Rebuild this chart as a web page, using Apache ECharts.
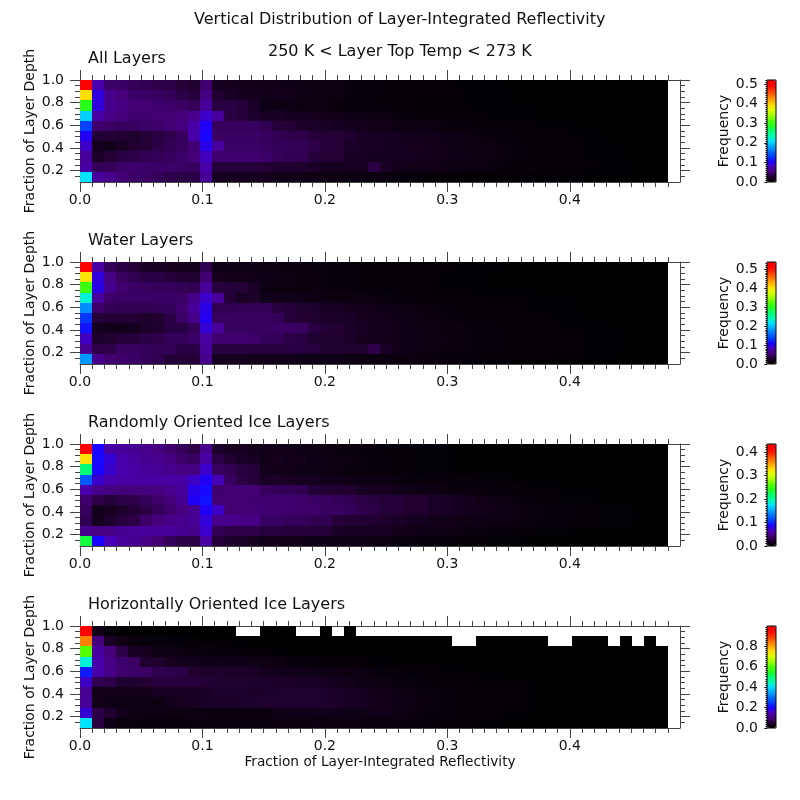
<!DOCTYPE html>
<html><head><meta charset="utf-8">
<style>html,body{margin:0;padding:0;background:#fff}#c{width:800px;height:800px}</style>
<script src="https://cdn.jsdelivr.net/npm/echarts@6/dist/echarts.min.js"></script>
</head><body><div id="c"></div>
<script>
// Values are frequency x 1000; rows run from the top row of each panel (depth 1.0) downward.
const allLayers = [
[500,75,46,44,40,38,36,34,28,25, 48,18,16,14,13,12,12,11,10,9, 8,8,7,6,6,5,5,4,4,3, 3,2,2,2,2,1,1,1,1,1, 1,1,1,0,0,0,0,0,0],
[390,92,60,52,46,44,42,40,34,30, 55,26,20,18,16,14,15,13,11,10, 9,8,7,6,6,5,5,4,4,3, 3,3,2,2,2,2,1,1,1,1, 1,1,1,1,0,0,0,0,0],
[290,92,62,55,50,50,48,46,44,40, 65,32,32,30,22,11,10,10,9,8, 7,6,5,5,4,4,3,3,2,2, 2,2,2,1,1,1,1,1,1,1, 1,1,1,0,0,0,0,0,0],
[200,70,58,52,48,48,50,50,52,60, 85,68,32,30,24,20,20,18,18,16, 14,12,11,10,9,8,7,6,5,5, 4,4,3,3,2,2,2,2,1,1, 1,1,1,1,1,1,1,0,0],
[130,48,44,42,42,44,46,50,54,72, 102,42,42,42,42,38,30,28,24,22, 20,18,17,15,14,13,11,10,9,8, 7,6,6,5,4,4,3,3,2,2, 2,1,1,1,1,1,1,1,0],
[100,28,28,26,24,28,32,36,42,72, 106,44,44,44,44,42,38,36,36,30, 28,28,26,20,18,17,16,15,13,13, 11,10,8,7,6,6,5,4,4,3, 3,2,2,1,1,1,1,1,0],
[85,16,14,20,26,28,34,38,42,50, 96,68,44,44,44,42,40,40,40,36, 30,28,22,20,19,18,18,17,16,14, 12,10,9,8,8,7,6,5,4,4, 3,3,2,2,1,1,1,1,1],
[65,22,28,32,35,38,40,42,46,52, 82,48,48,48,48,46,40,38,38,30, 28,28,20,19,18,18,18,18,15,14, 12,11,10,8,8,7,6,5,5,4, 3,3,2,2,2,1,1,1,1],
[70,40,40,46,48,46,46,46,44,42, 72,30,30,30,30,28,25,25,24,23, 18,17,17,17,32,20,14,13,12,12, 10,9,9,8,7,6,5,5,4,4, 3,3,3,2,2,2,1,1,1],
[210,68,60,50,46,44,40,36,34,34, 65,18,16,16,16,16,12,12,12,12, 10,10,9,9,8,8,7,6,6,5, 5,5,4,4,3,3,3,2,2,2, 2,2,1,1,1,1,1,1,1]
];
const waterLayers = [
[530,72,42,34,30,22,20,18,16,14, 38,12,11,10,10,9,9,8,8,7, 7,6,6,5,5,5,4,4,3,3, 3,2,2,2,2,1,1,1,1,1, 1,1,0,0,0,0,0,0,0],
[400,95,58,44,38,34,34,30,28,26, 50,18,15,14,13,11,10,9,8,8, 7,6,6,5,5,4,4,3,3,3, 2,2,2,2,1,1,1,1,1,1, 1,1,1,0,0,0,0,0,0],
[310,98,62,50,46,44,42,42,40,38, 68,32,30,30,22,10,9,9,8,8, 7,6,6,5,5,4,4,3,3,2, 2,2,2,1,1,1,1,1,1,1, 1,1,1,0,0,0,0,0,0],
[230,70,48,46,46,46,46,46,46,60, 88,68,30,20,24,14,15,14,13,10, 10,9,8,8,7,7,6,5,5,4, 4,3,3,3,2,2,2,2,1,1, 1,1,1,1,1,1,0,0,0],
[175,48,40,38,38,38,40,42,50,68, 98,38,38,40,40,40,32,30,26,24, 20,19,18,16,14,12,10,9,8,7, 6,5,5,4,4,3,3,2,2,2, 2,1,1,1,1,1,1,0,0],
[130,30,28,28,28,24,26,34,46,60, 102,44,44,44,44,44,42,30,28,26, 25,23,21,18,16,14,12,10,9,8, 7,6,5,5,4,4,3,3,3,2, 2,2,1,1,1,1,1,1,0],
[115,18,14,16,18,24,26,34,34,42, 92,68,44,44,44,44,46,46,44,34, 29,28,23,20,18,16,14,12,10,9, 8,8,7,6,6,5,4,4,3,3, 2,2,2,2,1,1,1,1,1],
[85,24,26,30,30,34,36,42,42,46, 72,50,50,50,48,42,42,35,34,27, 26,26,23,18,16,14,13,12,10,9, 9,8,7,6,6,5,5,4,4,3, 3,3,2,2,2,1,1,1,1],
[65,36,36,44,44,42,40,40,34,34, 68,32,32,32,32,32,32,33,33,32, 27,26,26,26,36,22,14,12,10,9, 8,8,7,6,6,5,5,4,4,3, 3,3,2,2,2,1,1,1,1],
[180,62,50,48,46,42,38,30,30,30, 62,18,18,18,16,16,14,14,12,12, 11,11,10,10,9,9,8,8,7,7, 6,6,5,5,4,4,3,3,3,2, 2,2,2,1,1,1,1,1,1]
];
const randomIceLayers = [
[420,88,60,55,52,50,46,40,34,28, 50,20,16,14,13,12,11,10,9,8, 7,6,6,5,5,4,4,4,3,3, 3,2,2,2,2,1,1,1,1,1, 1,1,1,0,0,0,0,0,0],
[325,90,75,62,56,52,50,46,38,36, 58,28,22,18,16,10,14,12,11,9, 8,7,7,6,5,5,4,4,3,3, 3,2,2,2,2,1,1,1,1,1, 1,1,1,1,0,0,0,0,0],
[215,88,72,62,58,56,54,50,46,46, 72,36,32,26,24,13,10,10,9,8, 8,7,6,6,5,5,4,4,3,3, 3,2,2,2,1,1,1,1,1,1, 1,1,1,1,0,0,0,0,0],
[120,72,62,58,58,58,58,58,58,70, 84,66,36,28,24,18,18,16,14,14, 12,11,10,9,9,8,7,6,6,5, 5,4,4,3,3,3,2,2,2,2, 1,1,1,1,1,1,1,0,0],
[62,50,46,44,44,44,46,50,56,80, 90,40,42,42,42,35,34,33,32,24, 22,21,21,16,15,14,12,10,9,8, 7,6,6,5,5,4,4,3,3,3, 2,2,2,1,1,1,1,1,1],
[40,30,24,28,30,34,38,44,52,84, 94,42,42,42,41,41,41,40,39,37, 36,34,32,28,26,24,24,22,22,18, 17,15,13,10,8,7,6,5,4,4, 3,3,3,2,2,2,1,1,1],
[35,12,16,20,24,28,34,40,46,52, 84,70,42,42,42,41,41,40,39,38, 36,36,34,30,28,24,24,22,22,18, 17,15,13,11,10,8,7,6,6,5, 5,4,4,3,3,3,2,2,2],
[32,14,20,26,28,38,44,48,50,54, 76,50,50,48,48,36,36,34,34,32, 32,25,23,23,22,20,17,15,14,12, 11,10,10,9,8,8,7,6,6,5, 5,4,4,3,3,3,2,2,2],
[50,48,48,52,54,56,56,56,52,50, 72,32,30,30,30,26,26,25,25,24, 24,17,16,16,16,16,12,10,9,8, 8,7,6,6,5,5,4,4,3,3, 3,2,2,2,2,1,1,1,1],
[230,88,66,56,52,48,42,34,28,28, 58,24,20,18,14,12,12,10,10,9, 9,8,8,8,7,7,6,6,5,5, 5,4,4,4,3,3,3,2,2,2, 2,2,1,1,1,1,1,1,1]
];
const horizIceLayers = [
[960,25,10,5,3,2,2,1,1,1, 1,0,0,null,null,0,0,0,null,null, 0,null,0,null,null,null,null,null,null,null, null,null,null,null,null,null,null,null,null,null, null,null,null,null,null,null,null,null,null],
[830,100,40,25,15,10,10,9,8,6, 5,4,3,2,1,1,1,1,0,0, 0,0,0,0,0,0,0,0,0,0, 0,null,null,0,0,0,0,0,0,null, null,0,0,0,null,0,null,0,null],
[600,130,100,65,35,32,20,18,16,12, 12,10,10,9,8,7,5,4,3,3, 2,2,2,2,1,1,1,0,0,0, 0,0,0,0,0,0,0,0,0,0, 0,0,0,0,0,0,0,0,0],
[420,140,110,90,85,50,48,35,32,30, 25,25,24,24,22,22,20,14,12,10, 9,8,7,6,5,5,4,3,3,2, 2,2,1,1,1,1,0,0,0,0, 0,0,0,0,0,0,0,0,0],
[220,140,110,90,88,85,70,68,65,48, 45,45,44,42,40,30,30,28,26,24, 22,20,18,15,12,10,9,8,7,6, 5,5,4,4,3,3,2,2,2,1, 1,1,1,0,0,0,0,0,0],
[160,70,68,50,50,52,60,60,58,58, 55,50,48,48,46,46,44,40,38,36, 34,30,25,20,18,16,14,12,10,9, 8,7,6,5,5,4,4,3,3,2, 2,2,1,1,1,1,0,0,0],
[120,25,25,25,28,28,35,35,38,38, 40,45,45,45,44,46,46,50,50,50, 46,42,38,34,28,24,20,16,14,12, 10,9,8,8,7,6,6,5,4,4, 3,3,3,2,2,2,1,1,1],
[125,25,22,20,20,20,18,30,32,35, 40,42,44,46,46,48,48,50,50,50, 46,42,38,34,30,25,22,18,15,12, 10,9,8,8,7,6,6,5,4,4, 3,3,2,2,2,1,1,1,1],
[170,65,50,30,20,20,20,18,18,16, 16,15,15,15,15,15,22,24,24,26, 26,24,22,22,24,25,20,16,14,12, 10,9,8,7,6,5,5,4,4,3, 3,2,2,1,1,1,1,1,1],
[400,60,22,12,12,10,10,10,10,12, 12,12,12,12,14,14,15,15,15,16, 15,15,15,14,14,12,12,10,10,8, 8,7,6,5,5,4,4,3,3,3, 2,2,2,1,1,1,1,1,1]
];
const panelTitles = ['All Layers','Water Layers','Randomly Oriented Ice Layers','Horizontally Oriented Ice Layers'];
const panelData = [allLayers, waterLayers, randomIceLayers, horizIceLayers];
const freqMax = [0.52, 0.537, 0.434, 0.995];
const freqMajor = [[0,.1,.2,.3,.4,.5],[0,.1,.2,.3,.4,.5],[0,.1,.2,.3,.4],[0,.2,.4,.6,.8]];
const freqMinorStep = [0.01,0.01,0.01,0.02];
const xMajor = [0,0.1,0.2,0.3,0.4];
const yMajor = [0.2,0.4,0.6,0.8,1.0];
const yMinorTicks = [0.15,0.25,0.3,0.35,0.45,0.5,0.55,0.65,0.7,0.75,0.85,0.9,0.95];
const xMinorTicks = Array.from({length:49},(_,i)=>i/100);
const palette = ['#000000','#200030','#45007a','#4800b4','#1a00ff','#0040ff','#0070ff','#00a8ff','#00e0ff','#00ffb0','#00ff70','#20ff20','#50ff00','#a0ff00','#d8ff00','#ffe000','#ffa800','#ff7000','#ff3000','#ff0000','#ff0000'];

const FONT = 'DejaVu Sans', INK = '#111', LINE = '#444';
const tops = [80,262,444,626], H = 102;
const binW = 0.48/49, rowH = 0.09, X_MAX = 0.49;
const grid=[], xAxis=[], yAxis=[], series=[], visualMap=[];
const title = [
  {text:'Vertical Distribution of Layer-Integrated Reflectivity',left:194,top:12},
  {text:'250 K < Layer Top Temp < 273 K',left:268,top:44}
];

function axisCommon(min,max,gi,pos,ticks,len,extra){
  return Object.assign({type:'value',gridIndex:gi,min,max,position:pos,silent:true,
    axisLine:{show:false,onZero:false},splitLine:{show:false},minorTick:{show:false},
    axisTick:{show:true,length:len,customValues:ticks,lineStyle:{color:LINE,width:1}},
    axisLabel:{show:false}},extra||{});
}
const lbl=(vals,margin)=>({show:true,customValues:vals,margin,color:INK,fontFamily:FONT,fontSize:14,formatter:v=>(+v).toFixed(1)});
const lineOn={show:true,onZero:false,lineStyle:{color:LINE,width:1}};

panelData.forEach((rows,p)=>{
  const top=tops[p], gi=grid.length;
  grid.push({left:80,top,width:600,height:H});
  const xi=xAxis.length, yi=yAxis.length;
  xAxis.push(axisCommon(0,X_MAX,gi,'bottom',xMajor,10,{axisLine:lineOn,axisLabel:lbl(xMajor,11),
    ...(p===3?{name:'Fraction of Layer-Integrated Reflectivity',nameLocation:'middle',nameGap:27,nameMoveOverlap:false,nameTextStyle:{fontFamily:FONT,fontSize:13.7,color:INK}}:{})}));
  xAxis.push(axisCommon(0,X_MAX,gi,'bottom',xMinorTicks,5));
  xAxis.push(axisCommon(0,X_MAX,gi,'top',xMajor,10,{axisLine:lineOn}));
  xAxis.push(axisCommon(0,X_MAX,gi,'top',xMinorTicks,5));
  yAxis.push(axisCommon(0.1,1,gi,'left',yMajor,10,{axisLine:lineOn,axisLabel:lbl(yMajor,16),
    name:'Fraction of Layer Depth',nameLocation:'middle',nameGap:43,nameMoveOverlap:false,nameTextStyle:{fontFamily:FONT,fontSize:14,color:INK}}));
  yAxis.push(axisCommon(0.1,1,gi,'left',yMinorTicks,5));
  yAxis.push(axisCommon(0.1,1,gi,'right',yMajor,10,{axisLine:lineOn}));
  yAxis.push(axisCommon(0.1,1,gi,'right',yMinorTicks,5));

  const data=[];
  rows.forEach((row,r)=>row.forEach((v,c)=>{
    if(v!==null) data.push([c*binW, 1-(r+1)*rowH, v/1000]);
  }));
  const si=series.length;
  series.push({type:'custom',xAxisIndex:xi,yAxisIndex:yi,coordinateSystem:'cartesian2d',
    encode:{x:0,y:1},data,silent:true,animation:false,clip:false,
    renderItem:(params,api)=>{
      const a=api.coord([api.value(0),api.value(1)+rowH]);
      const b=api.coord([api.value(0)+binW,api.value(1)]);
      const x0=Math.round(a[0]), x1=Math.round(b[0]), y0=Math.round(a[1]), y1=Math.round(b[1]);
      return {type:'rect',shape:{x:x0,y:y0,width:x1-x0,height:y1-y0},
        style:{fill:api.visual('color')}};
    }});
  visualMap.push({type:'continuous',seriesIndex:si,dimension:2,min:0,max:freqMax[p],
    left:767,top,itemWidth:9,itemHeight:H,padding:0,calculable:false,hoverLink:false,
    inRange:{color:palette},text:null,z:4});

  // Colour bar scale and frame
  const cg=grid.length;
  grid.push({left:767,top,width:9,height:H,show:true,borderColor:'#000',borderWidth:1,backgroundColor:'transparent',z:10});
  xAxis.push({type:'value',gridIndex:cg,min:0,max:1,show:false});
  const step=freqMinorStep[p], minor=[];
  for(let k=0;k*step<=freqMax[p];k++) minor.push(+(k*step).toFixed(3));
  yAxis.push(axisCommon(0,freqMax[p],cg,'left',freqMajor[p],3,{axisLabel:lbl(freqMajor[p],9),
    name:'Frequency',nameLocation:'middle',nameGap:36,nameMoveOverlap:false,nameTextStyle:{fontFamily:FONT,fontSize:14,color:INK}}));
  yAxis.push(axisCommon(0,freqMax[p],cg,'left',minor,1.5,{axisTick:{show:true,length:1.5,customValues:minor,lineStyle:{color:'#000',width:1}}}));

  title.push({text:panelTitles[p],left:88,top:top-29});
});
title.forEach(t=>{t.padding=0;t.textStyle={fontFamily:FONT,fontSize:16,fontWeight:'normal',color:INK};});

const chart=echarts.init(document.getElementById('c'),null,{renderer:'canvas'});
chart.setOption({animation:false,backgroundColor:'#fff',title,grid,xAxis,yAxis,series,visualMap});
</script></body></html>
